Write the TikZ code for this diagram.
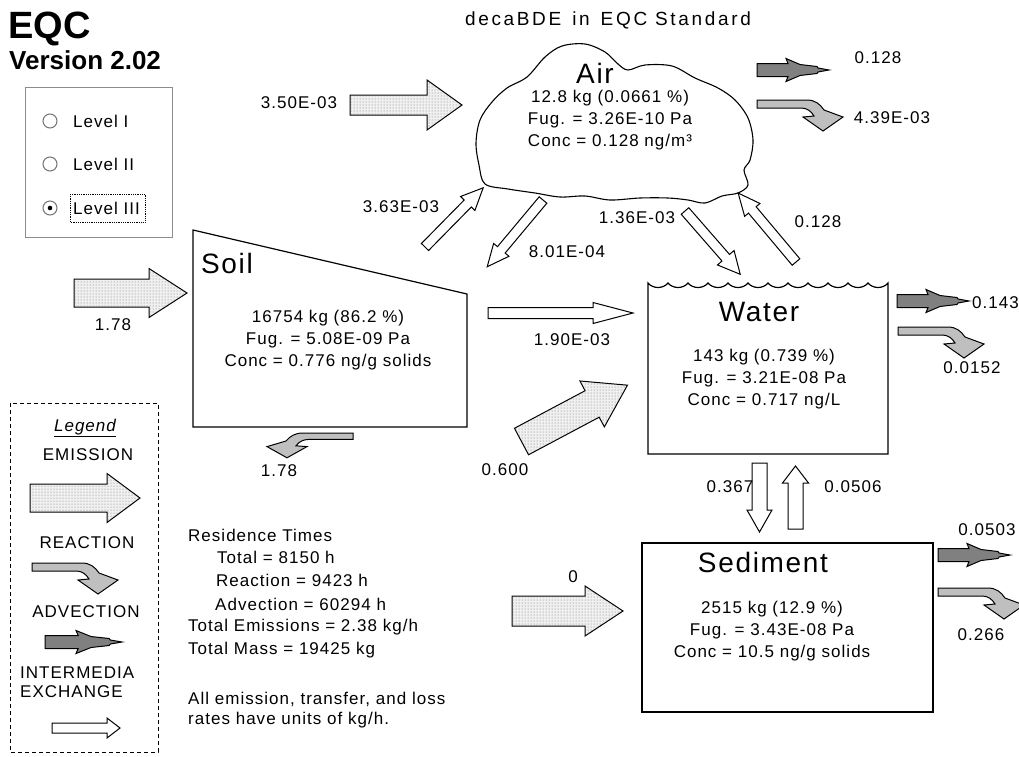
\documentclass[tikz,border=0pt]{standalone}
\usepackage{fontspec}
\setmainfont{Liberation Sans}[LetterSpace=6]
\newfontfamily\plainsans{Liberation Sans}
\usetikzlibrary{patterns}

\newcommand\lblsize{\fontsize{17}{22}\selectfont}
\newcommand\cmpsize{\fontsize{28}{32}\selectfont}

% block arrow along +x: length, body half width, head half width, head length
\newcommand\blockarrow[4]{(0,-#2) -- ({#1-#4},-#2) -- ({#1-#4},-#3) -- (#1,0) -- ({#1-#4},#3) -- ({#1-#4},#2) -- (0,#2) -- cycle}
% advection arrow, 72 long
\newcommand\advarrow{(0,-6.5) -- (31,-6.5) -- (29,-11.5) -- (43,-5.5) -- (60,-3.5) -- (61,-2) -- (72,0) -- (61,2) -- (60,3.5) -- (43,5.5) -- (29,11.5) -- (31,6.5) -- (0,6.5) -- cycle}
% reaction arrow, origin at top left of the band
\newcommand\reacarrow{(0,0) -- (50,0) .. controls (58,0) and (63,4) .. (67,10) -- (86,17) -- (66,31) -- (46,17) -- (57,16) .. controls (54,11) and (50,8) .. (44,8) -- (0,8) -- cycle}

\begin{document}
\begin{tikzpicture}[x=1pt,y=-1pt,
  lbl/.style={font=\lblsize, inner sep=0pt},
  cmp/.style={font=\cmpsize, inner sep=0pt},
  box/.style={draw, line width=1.2pt},
  emis/.style={draw, line width=1pt, fill=black!6, postaction={pattern=dots, pattern color=black!55}},
  xchg/.style={draw, line width=1pt, fill=white},
  advc/.style={draw, line width=1pt, fill=black!50},
  reac/.style={draw, line width=1pt, fill=black!25},
  radio/.style={draw=black!55, line width=1pt, fill=white}]
  \fill[white] (0,0) rectangle (1019,756);
  \useasboundingbox (0,0) rectangle (1019,756);

  % title and level selector
  \node[anchor=base west, inner sep=0pt, font=\plainsans\bfseries\fontsize{38}{40}\selectfont] (eqc) at (8,38) {EQC};
  \node[anchor=base west, inner sep=0pt, font=\plainsans\bfseries\fontsize{26}{30}\selectfont] (ver) at (9,69) {Version 2.02};
  \node[lbl, font=\fontsize{19}{22}\selectfont\addfontfeature{LetterSpace=14}] (head) at (608,20) {decaBDE\hspace{11pt}in\hspace{11pt}EQC Standard};

  \draw[black!45, line width=1pt] (25,87) rectangle (172,237);
  \foreach \y/\t [count=\i] in {121/Level I,164/Level II,208/Level III} {
    \draw[radio] (50,\y) circle (7);
    \node[lbl, anchor=west] (lev\i) at (73,\y) {\t};
  }
  \fill (50,208) circle (2.3);
  \draw[densely dotted, line width=0.8pt] (70,194) rectangle (145,222);

  % compartments
  \draw[line width=1.1pt] plot[smooth cycle, tension=0.55] coordinates {
    (527,77) (545,57) (562,46) (585,44) (605,52) (618,64) (628,70) (645,65)
    (672,66) (695,78) (718,88) (735,100) (748,118) (753,140) (750,160)
    (744,170) (748,185) (738,193) (722,196) (705,203) (688,200) (668,198)
    (640,198) (610,200) (585,196) (560,197) (535,193) (508,189) (485,184)
    (479,165) (476,143) (480,120) (492,102) (507,88)};
  \node[cmp] (air) at (595,73) {Air};
  \node[lbl, align=center] (airtxt) at (610,120) {12.8 kg (0.0661 \%)\\Fug. = 3.26E-10 Pa\\Conc = 0.128 ng/m³};

  \draw[box] (193,230) -- (467,294) -- (467,427) -- (193,427) -- cycle;
  \node[cmp] (soil) at (227,263) {Soil};
  \node[lbl, align=center] (soiltxt) at (328,340) {16754 kg (86.2 \%)\\Fug. = 5.08E-09 Pa\\Conc = 0.776 ng/g solids};

  \draw[box] (648,283) \foreach \i in {1,...,12} { .. controls +(5,6) and +(-5,6) .. ++(20,0) } -- (888,454) -- (648,454) -- cycle;
  \node[cmp] (water) at (759,312) {Water};
  \node[lbl, align=center] (watertxt) at (764,379) {143 kg (0.739 \%)\\Fug. = 3.21E-08 Pa\\Conc = 0.717 ng/L};

  \draw[box] (642,543) rectangle (933,712);
  \node[cmp] (sed) at (763,562) {Sediment};
  \node[lbl, align=center] (sedtxt) at (772,631) {2515 kg (12.9 \%)\\Fug. = 3.43E-08 Pa\\Conc = 10.5 ng/g solids};

  % emissions
  \begin{scope}[shift={(350,105)}] \draw[emis] \blockarrow{112}{10}{25}{35}; \end{scope}
  \begin{scope}[shift={(74,293)}] \draw[emis] \blockarrow{113}{14}{24.5}{38}; \end{scope}
  \begin{scope}[shift={(512,611)}] \draw[emis] \blockarrow{111}{15}{25}{38}; \end{scope}
  \begin{scope}[shift={(521.5,441.5)},rotate=28] \draw[emis] \blockarrow{120}{15}{26}{40}; \end{scope}

  % intermedia exchange
  \begin{scope}[shift={(488,313)}] \draw[xchg] \blockarrow{145}{5.5}{10.5}{40}; \end{scope}
  \begin{scope}[shift={(759.5,463)},rotate=-90] \draw[xchg] \blockarrow{69}{7.5}{12.5}{22}; \end{scope}
  \begin{scope}[shift={(795.5,529)},rotate=90] \draw[xchg] \blockarrow{63}{7.5}{13}{17}; \end{scope}
  \begin{scope}[shift={(425,247)},rotate=45.5] \draw[xchg] \blockarrow{83}{5}{10}{22}; \end{scope}
  \begin{scope}[shift={(543,200)},rotate=-129.9] \draw[xchg] \blockarrow{87}{5}{10}{22}; \end{scope}
  \begin{scope}[shift={(685,211)},rotate=-48.9] \draw[xchg] \blockarrow{84}{5}{11}{22}; \end{scope}
  \begin{scope}[shift={(796,262)},rotate=130] \draw[xchg] \blockarrow{90}{5}{10}{22}; \end{scope}

  % advection and reaction losses
  \begin{scope}[shift={(757,70)}] \draw[advc] \advarrow; \end{scope}
  \begin{scope}[shift={(897,301)}] \draw[advc] \advarrow; \end{scope}
  \begin{scope}[shift={(938,555)}] \draw[advc] \advarrow; \end{scope}
  \begin{scope}[shift={(757,100)}] \draw[reac] \reacarrow; \end{scope}
  \begin{scope}[shift={(898,327)}] \draw[reac] \reacarrow; \end{scope}
  \begin{scope}[shift={(938,588)}] \draw[reac] \reacarrow; \end{scope}
  \begin{scope}[shift={(353,433)},xscale=-1,yscale=0.8] \draw[reac] \reacarrow; \end{scope}

  % rates
  \node[lbl] (e-air) at (299,103) {3.50E-03};
  \node[lbl] (adv-air) at (878,58) {0.128};
  \node[lbl] (rx-air) at (892,118) {4.39E-03};
  \node[lbl] (x-sa) at (401,207) {3.63E-03};
  \node[lbl] (x-as) at (567,252) {8.01E-04};
  \node[lbl] (x-aw) at (637,218) {1.36E-03};
  \node[lbl] (x-wa) at (818,222) {0.128};
  \node[lbl] (e-soil) at (113,325) {1.78};
  \node[lbl] (x-sw) at (572,340) {1.90E-03};
  \node[lbl, anchor=west] (adv-w) at (972,303) {0.143};
  \node[lbl] (rx-w) at (972,368) {0.0152};
  \node[lbl] (rx-soil) at (279,471) {1.78};
  \node[lbl] (e-w) at (505,470) {0.600};
  \node[lbl] (x-ws) at (730,487) {0.367};
  \node[lbl] (x-sdw) at (853,487) {0.0506};
  \node[lbl] (adv-sd) at (987,530) {0.0503};
  \node[lbl] (rx-sd) at (981,635) {0.266};
  \node[lbl] (e-sd) at (573,577) {0};

  % summary
  \node[lbl, anchor=west] (res) at (188,535) {Residence Times};
  \node[lbl, anchor=west] (res1) at (217,557) {Total = 8150 h};
  \node[lbl, anchor=west] (res2) at (216,580) {Reaction = 9423 h};
  \node[lbl, anchor=west] (res3) at (215,604) {Advection = 60294 h};
  \node[lbl, anchor=west] (totem) at (188,627) {Total Emissions = 2.38 kg/h};
  \node[lbl, anchor=west] (totm) at (188,650) {Total Mass = 19425 kg};
  \node[lbl, anchor=west] (note1) at (188,699) {All emission, transfer, and loss};
  \node[lbl, anchor=west] (note2) at (188,720) {rates have units of kg/h.};

  % legend
  \draw[line width=1pt, dash pattern=on 4pt off 3pt] (10,403) rectangle (158,752);
  \node[lbl, font=\lblsize\itshape] (leg) at (85,428) {\underline{Legend}};
  \node[lbl] (lemis) at (88,455) {EMISSION};
  \begin{scope}[shift={(30,498)}] \draw[emis] \blockarrow{110}{14}{24.5}{33}; \end{scope}
  \node[lbl] (lreac) at (87,543) {REACTION};
  \begin{scope}[shift={(32,563)}] \draw[reac] \reacarrow; \end{scope}
  \node[lbl] (ladv) at (86,612) {ADVECTION};
  \begin{scope}[shift={(45,642)},xscale=1.07] \draw[advc] \advarrow; \end{scope}
  \node[lbl, anchor=west] (lint1) at (20,673) {INTERMEDIA};
  \node[lbl, anchor=west] (lint2) at (20,692) {EXCHANGE};
  \begin{scope}[shift={(52,728)}] \draw[xchg] \blockarrow{68}{5}{10}{13}; \end{scope}
\end{tikzpicture}
\end{document}
